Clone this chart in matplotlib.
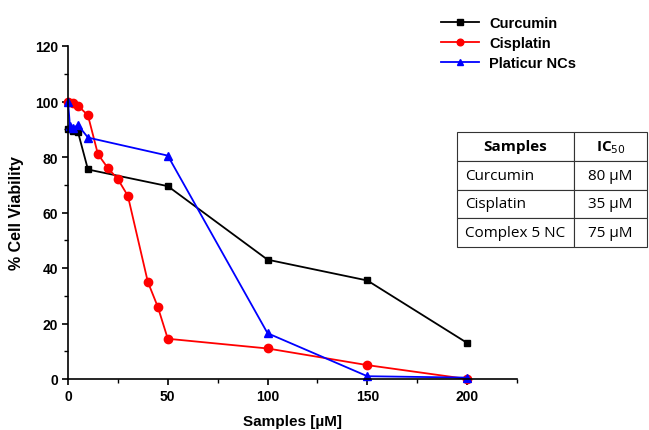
import matplotlib.pyplot as plt

# concentrations (uM) and % viability
curcumin_x = [0, 2.5, 5, 10, 50, 100, 150, 200]
curcumin_y = [90, 89.5, 89, 75.5, 69.5, 43, 35.5, 13]

cisplatin_x = [0, 2.5, 5, 10, 15, 20, 25, 30, 40, 45, 50, 100, 150, 200]
cisplatin_y = [100, 99.5, 98.5, 95, 81, 76, 72, 66, 35, 26, 14.5, 11, 5, 0]

platicur_x = [0, 1, 2.5, 5, 10, 50, 100, 150, 200]
platicur_y = [100, 91, 90.5, 91.5, 87, 80.5, 16.5, 1, 0.5]

table_rows = [["Samples", "IC$_{50}$"],
              ["Curcumin", "80 \u00b5M"],
              ["Cisplatin", "35 \u00b5M"],
              ["Complex 5 NC", "75 \u00b5M"]]

plt.rcParams['font.family'] = ['Liberation Sans', 'DejaVu Sans']

fig = plt.figure(figsize=(6.49, 4.31), dpi=100)
ax = fig.add_axes([68/649, 1 - 380/431, (517 - 68)/649, (380 - 47)/431])

ax.plot(curcumin_x, curcumin_y, color='black', marker='s', markersize=5,
        linewidth=1.3, label='Curcumin', clip_on=False)
ax.plot(cisplatin_x, cisplatin_y, color='red', marker='o', markersize=6,
        linewidth=1.3, label='Cisplatin', clip_on=False)
ax.plot(platicur_x, platicur_y, color='blue', marker='^', markersize=6,
        linewidth=1.3, label='Platicur NCs', clip_on=False)

ax.set_xlim(0, 225)
ax.set_ylim(0, 120)
ax.set_xticks([0, 50, 100, 150, 200])
ax.set_xticks([25, 75, 125, 175, 225], minor=True)
ax.set_yticks([0, 20, 40, 60, 80, 100, 120])
ax.set_yticks([10, 30, 50, 70, 90, 110], minor=True)
ax.spines['top'].set_visible(False)
ax.spines['right'].set_visible(False)
ax.spines['left'].set_linewidth(1.2)
ax.spines['bottom'].set_linewidth(1.2)
ax.tick_params(which='major', length=4, width=1.2, labelsize=10, pad=3)
ax.tick_params(which='minor', length=3, width=1.0)
for lbl in ax.get_xticklabels() + ax.get_yticklabels():
    lbl.set_fontweight('bold')

ax.set_xlabel('Samples [\u00b5M]', fontsize=11, fontweight='bold', labelpad=8)
ax.set_ylabel('% Cell Viability', fontsize=11.5, fontweight='bold', labelpad=8)

leg = fig.legend(loc='upper left', bbox_to_anchor=(428/649, 1 - 4/431),
                 frameon=False, prop={'weight': 'bold', 'size': 10.5},
                 handlelength=2.6, handletextpad=0.7, labelspacing=0.4,
                 markerscale=0.8)

tbl = fig.add_axes([457/649, 1 - 248/431, (647 - 457)/649, (248 - 133)/431])
tbl.axis('off')
t = tbl.table(cellText=table_rows, bbox=[0, 0, 1, 1], cellLoc='center',
              colWidths=[117, 73])
t.auto_set_font_size(False)
for (r, c), cell in t.get_celld().items():
    cell.set_linewidth(0.8)
    cell.set_edgecolor('#333333')
    cell.get_text().set_fontsize(11)
    cell.get_text().set_family('Open Sans')
    if r == 0:
        cell.get_text().set_fontweight('bold')
    elif c == 0:
        cell.set_text_props(ha='left')
        cell.PAD = 0.07

fig.savefig('out.png', dpi=100)
